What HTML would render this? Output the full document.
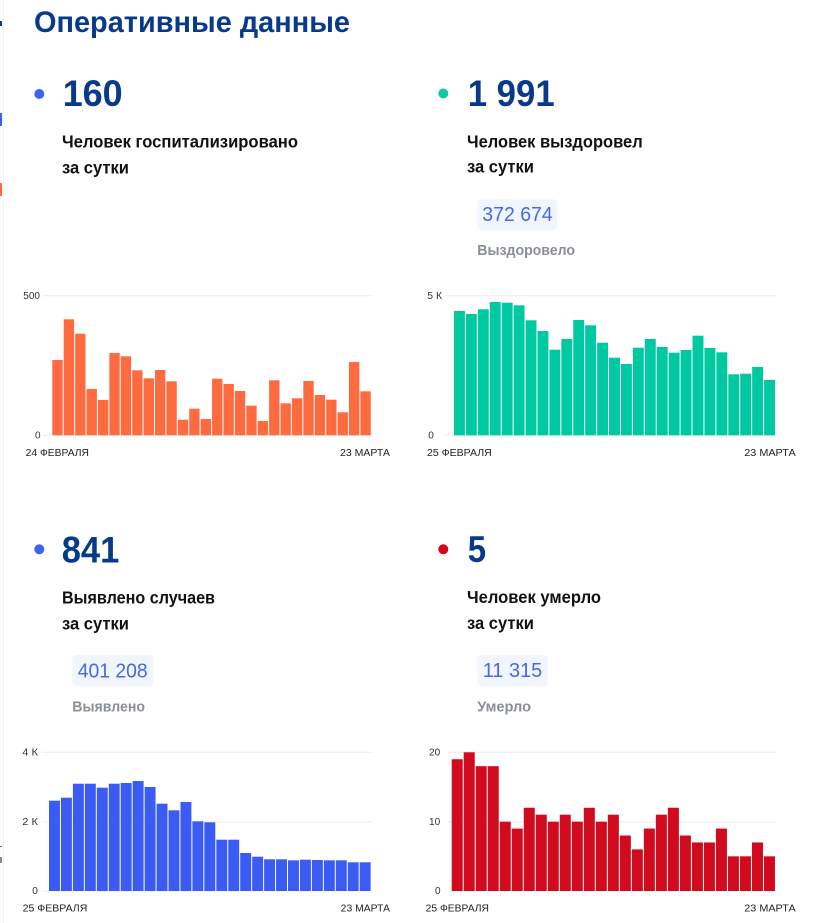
<!DOCTYPE html>
<html><head><meta charset="utf-8"><style>
html,body{margin:0;padding:0;background:#fff;width:830px;height:923px;overflow:hidden}
svg{display:block}
text{font-family:"Liberation Sans","DejaVu Sans",sans-serif}
.t{font-size:30px;font-weight:700;fill:#083a8c}
.n{font-size:37px;font-weight:700;fill:#083a8c}
.d{font-size:17.5px;font-weight:700;fill:#111}
.b{font-size:20px;fill:#4a68e0}
.g{font-size:14.5px;font-weight:700;fill:#8a8e96}
.k{font-size:10px;fill:#333}
.x{font-size:10px;fill:#222}
</style></head><body>
<svg width="830" height="923" viewBox="0 0 830 923" xmlns="http://www.w3.org/2000/svg">
<rect width="830" height="923" fill="#fff"/>
<line x1="3.5" y1="0" x2="3.5" y2="923" stroke="#f3f3f3" stroke-width="1"/>
<rect x="0" y="21" width="2" height="5" fill="#0a3a8c"/>
<rect x="0" y="113" width="2" height="13" fill="#3a5cf0"/>
<rect x="0" y="183" width="2" height="13" fill="#ff6b40"/>
<rect x="0" y="846" width="2" height="1" fill="#666"/>
<rect x="0" y="857" width="2" height="6" fill="#888"/>

<text class="t" x="34" y="32" textLength="316" lengthAdjust="spacingAndGlyphs">Оперативные данные</text>

<!-- Block 1 -->
<circle cx="39.3" cy="94" r="5" fill="#3d63f2"/>
<text class="n" x="62.7" y="106" textLength="60" lengthAdjust="spacingAndGlyphs">160</text>
<text class="d" x="62" y="147.7" textLength="236" lengthAdjust="spacingAndGlyphs">Человек госпитализировано</text>
<text class="d" x="62" y="173.3" textLength="67" lengthAdjust="spacingAndGlyphs">за сутки</text>

<!-- Block 2 -->
<circle cx="443.3" cy="93.5" r="5" fill="#10c9a0"/>
<text class="n" x="467.7" y="106" textLength="87" lengthAdjust="spacingAndGlyphs">1 991</text>
<text class="d" x="467" y="147.3" textLength="175.7" lengthAdjust="spacingAndGlyphs">Человек выздоровел</text>
<text class="d" x="467" y="172.7" textLength="67" lengthAdjust="spacingAndGlyphs">за сутки</text>
<rect x="477.3" y="199.3" width="80" height="30.7" rx="4" fill="#f1f5fd"/>
<text class="b" x="482.3" y="221" textLength="70.4" lengthAdjust="spacingAndGlyphs">372 674</text>
<text class="g" x="477.3" y="255" textLength="97.7" lengthAdjust="spacingAndGlyphs">Выздоровело</text>

<!-- Block 3 -->
<circle cx="39.3" cy="549.3" r="5" fill="#3d63f2"/>
<text class="n" x="61.7" y="562.3" textLength="57.6" lengthAdjust="spacingAndGlyphs">841</text>
<text class="d" x="62" y="603.3" textLength="153" lengthAdjust="spacingAndGlyphs">Выявлено случаев</text>
<text class="d" x="62" y="629.3" textLength="67" lengthAdjust="spacingAndGlyphs">за сутки</text>
<rect x="72.3" y="655" width="81" height="31" rx="4" fill="#f1f5fd"/>
<text class="b" x="77.7" y="677.3" textLength="70" lengthAdjust="spacingAndGlyphs">401 208</text>
<text class="g" x="72.3" y="711.7" textLength="72.7" lengthAdjust="spacingAndGlyphs">Выявлено</text>

<!-- Block 4 -->
<circle cx="443.3" cy="549.3" r="5" fill="#d4061c"/>
<text class="n" x="467.7" y="562" textLength="18.3" lengthAdjust="spacingAndGlyphs">5</text>
<text class="d" x="467" y="603" textLength="134" lengthAdjust="spacingAndGlyphs">Человек умерло</text>
<text class="d" x="467" y="629" textLength="67" lengthAdjust="spacingAndGlyphs">за сутки</text>
<rect x="477.3" y="655" width="70.4" height="31" rx="4" fill="#f1f5fd"/>
<text class="b" x="482.7" y="677" textLength="59.6" lengthAdjust="spacingAndGlyphs">11 315</text>
<text class="g" x="477.3" y="711.5" textLength="53.7" lengthAdjust="spacingAndGlyphs">Умерло</text>

<!-- Chart 1 -->
<g stroke="#ececec" stroke-width="1">
<line x1="43" y1="295.7" x2="372" y2="295.7"/>
<line x1="43" y1="435.3" x2="372" y2="435.3"/>
</g>
<text class="k" x="23.3" y="298.8" textLength="16.7" lengthAdjust="spacingAndGlyphs">500</text>
<text class="k" x="35" y="438.5">0</text>
<g transform="translate(52.3,0) scale(11.41,1)" fill="#ff6b40">
<rect x="0" y="360.0" width="0.91" height="75.3"/>
<rect x="1" y="319.3" width="0.91" height="116"/>
<rect x="2" y="333.7" width="0.91" height="101.6"/>
<rect x="3" y="389.0" width="0.91" height="46.3"/>
<rect x="4" y="400.0" width="0.91" height="35.3"/>
<rect x="5" y="353.0" width="0.91" height="82.3"/>
<rect x="6" y="356.3" width="0.91" height="79"/>
<rect x="7" y="370.3" width="0.91" height="65"/>
<rect x="8" y="378.3" width="0.91" height="57"/>
<rect x="9" y="370.0" width="0.91" height="65.3"/>
<rect x="10" y="381.3" width="0.91" height="54"/>
<rect x="11" y="419.7" width="0.91" height="15.6"/>
<rect x="12" y="408.7" width="0.91" height="26.6"/>
<rect x="13" y="419.0" width="0.91" height="16.3"/>
<rect x="14" y="378.7" width="0.91" height="56.6"/>
<rect x="15" y="384.0" width="0.91" height="51.3"/>
<rect x="16" y="391.0" width="0.91" height="44.3"/>
<rect x="17" y="405.7" width="0.91" height="29.6"/>
<rect x="18" y="421.0" width="0.91" height="14.3"/>
<rect x="19" y="380.3" width="0.91" height="55"/>
<rect x="20" y="403.3" width="0.91" height="32"/>
<rect x="21" y="398.3" width="0.91" height="37"/>
<rect x="22" y="381.0" width="0.91" height="54.3"/>
<rect x="23" y="395.0" width="0.91" height="40.3"/>
<rect x="24" y="399.7" width="0.91" height="35.6"/>
<rect x="25" y="412.3" width="0.91" height="23"/>
<rect x="26" y="362.0" width="0.91" height="73.3"/>
<rect x="27" y="391.3" width="0.91" height="44"/>
</g>
<text class="x" x="25.7" y="455.8" textLength="63.3" lengthAdjust="spacingAndGlyphs">24 ФЕВРАЛЯ</text>
<text class="x" x="340" y="455.8" textLength="50" lengthAdjust="spacingAndGlyphs">23 МАРТА</text>

<!-- Chart 2 -->
<g stroke="#ececec" stroke-width="1">
<line x1="445" y1="295.7" x2="776" y2="295.7"/>
<line x1="445" y1="435.3" x2="776" y2="435.3"/>
</g>
<text class="k" x="427.3" y="298.8" textLength="14.7" lengthAdjust="spacingAndGlyphs">5 К</text>
<text class="k" x="428.3" y="438.5">0</text>
<g transform="translate(454,0) scale(11.926,1)" fill="#00c9a2">
<rect x="0" y="311.0" width="0.916" height="124.3"/>
<rect x="1" y="314.0" width="0.916" height="121.3"/>
<rect x="2" y="309.3" width="0.916" height="126"/>
<rect x="3" y="302.0" width="0.916" height="133.3"/>
<rect x="4" y="302.7" width="0.916" height="132.6"/>
<rect x="5" y="305.3" width="0.916" height="130"/>
<rect x="6" y="320.3" width="0.916" height="115"/>
<rect x="7" y="331.0" width="0.916" height="104.3"/>
<rect x="8" y="349.7" width="0.916" height="85.6"/>
<rect x="9" y="339.0" width="0.916" height="96.3"/>
<rect x="10" y="320.0" width="0.916" height="115.3"/>
<rect x="11" y="325.3" width="0.916" height="110"/>
<rect x="12" y="342.7" width="0.916" height="92.6"/>
<rect x="13" y="357.7" width="0.916" height="77.6"/>
<rect x="14" y="364.0" width="0.916" height="71.3"/>
<rect x="15" y="347.7" width="0.916" height="87.6"/>
<rect x="16" y="339.0" width="0.916" height="96.3"/>
<rect x="17" y="347.0" width="0.916" height="88.3"/>
<rect x="18" y="352.7" width="0.916" height="82.6"/>
<rect x="19" y="350.0" width="0.916" height="85.3"/>
<rect x="20" y="335.7" width="0.916" height="99.6"/>
<rect x="21" y="348.0" width="0.916" height="87.3"/>
<rect x="22" y="352.3" width="0.916" height="83"/>
<rect x="23" y="374.3" width="0.916" height="61"/>
<rect x="24" y="373.7" width="0.916" height="61.6"/>
<rect x="25" y="367.0" width="0.916" height="68.3"/>
<rect x="26" y="380.0" width="0.916" height="55.3"/>
</g>
<text class="x" x="427" y="455.8" textLength="64.7" lengthAdjust="spacingAndGlyphs">25 ФЕВРАЛЯ</text>
<text class="x" x="744.3" y="455.8" textLength="51.4" lengthAdjust="spacingAndGlyphs">23 МАРТА</text>

<!-- Chart 3 -->
<g stroke="#ececec" stroke-width="1">
<line x1="42" y1="752.3" x2="372" y2="752.3"/>
<line x1="42" y1="822" x2="372" y2="822"/>
<line x1="42" y1="891" x2="372" y2="891"/>
</g>
<text class="k" x="22.3" y="755.5" textLength="15.7" lengthAdjust="spacingAndGlyphs">4 К</text>
<text class="k" x="22.3" y="825.2" textLength="15.7" lengthAdjust="spacingAndGlyphs">2 К</text>
<text class="k" x="32.3" y="894.2">0</text>
<g transform="translate(49,0) scale(11.95,1)" fill="#3a5cf5">
<rect x="0" y="800.7" width="0.916" height="90.3"/>
<rect x="1" y="797.7" width="0.916" height="93.3"/>
<rect x="2" y="783.7" width="0.916" height="107.3"/>
<rect x="3" y="783.7" width="0.916" height="107.3"/>
<rect x="4" y="787.7" width="0.916" height="103.3"/>
<rect x="5" y="783.7" width="0.916" height="107.3"/>
<rect x="6" y="783.0" width="0.916" height="108"/>
<rect x="7" y="781.0" width="0.916" height="110"/>
<rect x="8" y="787.0" width="0.916" height="104"/>
<rect x="9" y="803.7" width="0.916" height="87.3"/>
<rect x="10" y="810.3" width="0.916" height="80.7"/>
<rect x="11" y="802.0" width="0.916" height="89"/>
<rect x="12" y="821.3" width="0.916" height="69.7"/>
<rect x="13" y="822.3" width="0.916" height="68.7"/>
<rect x="14" y="839.7" width="0.916" height="51.3"/>
<rect x="15" y="839.7" width="0.916" height="51.3"/>
<rect x="16" y="853.0" width="0.916" height="38"/>
<rect x="17" y="856.7" width="0.916" height="34.3"/>
<rect x="18" y="859.3" width="0.916" height="31.7"/>
<rect x="19" y="859.3" width="0.916" height="31.7"/>
<rect x="20" y="860.3" width="0.916" height="30.7"/>
<rect x="21" y="859.7" width="0.916" height="31.3"/>
<rect x="22" y="860.0" width="0.916" height="31"/>
<rect x="23" y="860.3" width="0.916" height="30.7"/>
<rect x="24" y="860.3" width="0.916" height="30.7"/>
<rect x="25" y="862.3" width="0.916" height="28.7"/>
<rect x="26" y="862.3" width="0.916" height="28.7"/>
</g>
<text class="x" x="22.7" y="911.3" textLength="64.6" lengthAdjust="spacingAndGlyphs">25 ФЕВРАЛЯ</text>
<text class="x" x="340.7" y="911.3" textLength="49.3" lengthAdjust="spacingAndGlyphs">23 МАРТА</text>

<!-- Chart 4 -->
<g stroke="#ececec" stroke-width="1">
<line x1="448" y1="752.3" x2="776" y2="752.3"/>
<line x1="448" y1="822" x2="776" y2="822"/>
<line x1="448" y1="891" x2="776" y2="891"/>
</g>
<text class="k" x="429" y="755.5" textLength="11.2" lengthAdjust="spacingAndGlyphs">20</text>
<text class="k" x="429" y="825.2" textLength="11.2" lengthAdjust="spacingAndGlyphs">10</text>
<text class="k" x="435" y="894.2">0</text>
<g transform="translate(451.7,891) scale(12.01,-6.935)" fill="#d20a1e">
<rect x="0" y="0" width="0.917" height="19"/>
<rect x="1" y="0" width="0.917" height="20"/>
<rect x="2" y="0" width="0.917" height="18"/>
<rect x="3" y="0" width="0.917" height="18"/>
<rect x="4" y="0" width="0.917" height="10"/>
<rect x="5" y="0" width="0.917" height="9"/>
<rect x="6" y="0" width="0.917" height="12"/>
<rect x="7" y="0" width="0.917" height="11"/>
<rect x="8" y="0" width="0.917" height="10"/>
<rect x="9" y="0" width="0.917" height="11"/>
<rect x="10" y="0" width="0.917" height="10"/>
<rect x="11" y="0" width="0.917" height="12"/>
<rect x="12" y="0" width="0.917" height="10"/>
<rect x="13" y="0" width="0.917" height="11"/>
<rect x="14" y="0" width="0.917" height="8"/>
<rect x="15" y="0" width="0.917" height="6"/>
<rect x="16" y="0" width="0.917" height="9"/>
<rect x="17" y="0" width="0.917" height="11"/>
<rect x="18" y="0" width="0.917" height="12"/>
<rect x="19" y="0" width="0.917" height="8"/>
<rect x="20" y="0" width="0.917" height="7"/>
<rect x="21" y="0" width="0.917" height="7"/>
<rect x="22" y="0" width="0.917" height="9"/>
<rect x="23" y="0" width="0.917" height="5"/>
<rect x="24" y="0" width="0.917" height="5"/>
<rect x="25" y="0" width="0.917" height="7"/>
<rect x="26" y="0" width="0.917" height="5"/>
</g>
<text class="x" x="425.7" y="911.3" textLength="63.3" lengthAdjust="spacingAndGlyphs">25 ФЕВРАЛЯ</text>
<text class="x" x="744.3" y="911.3" textLength="51.4" lengthAdjust="spacingAndGlyphs">23 МАРТА</text>
</svg>
</body></html>
